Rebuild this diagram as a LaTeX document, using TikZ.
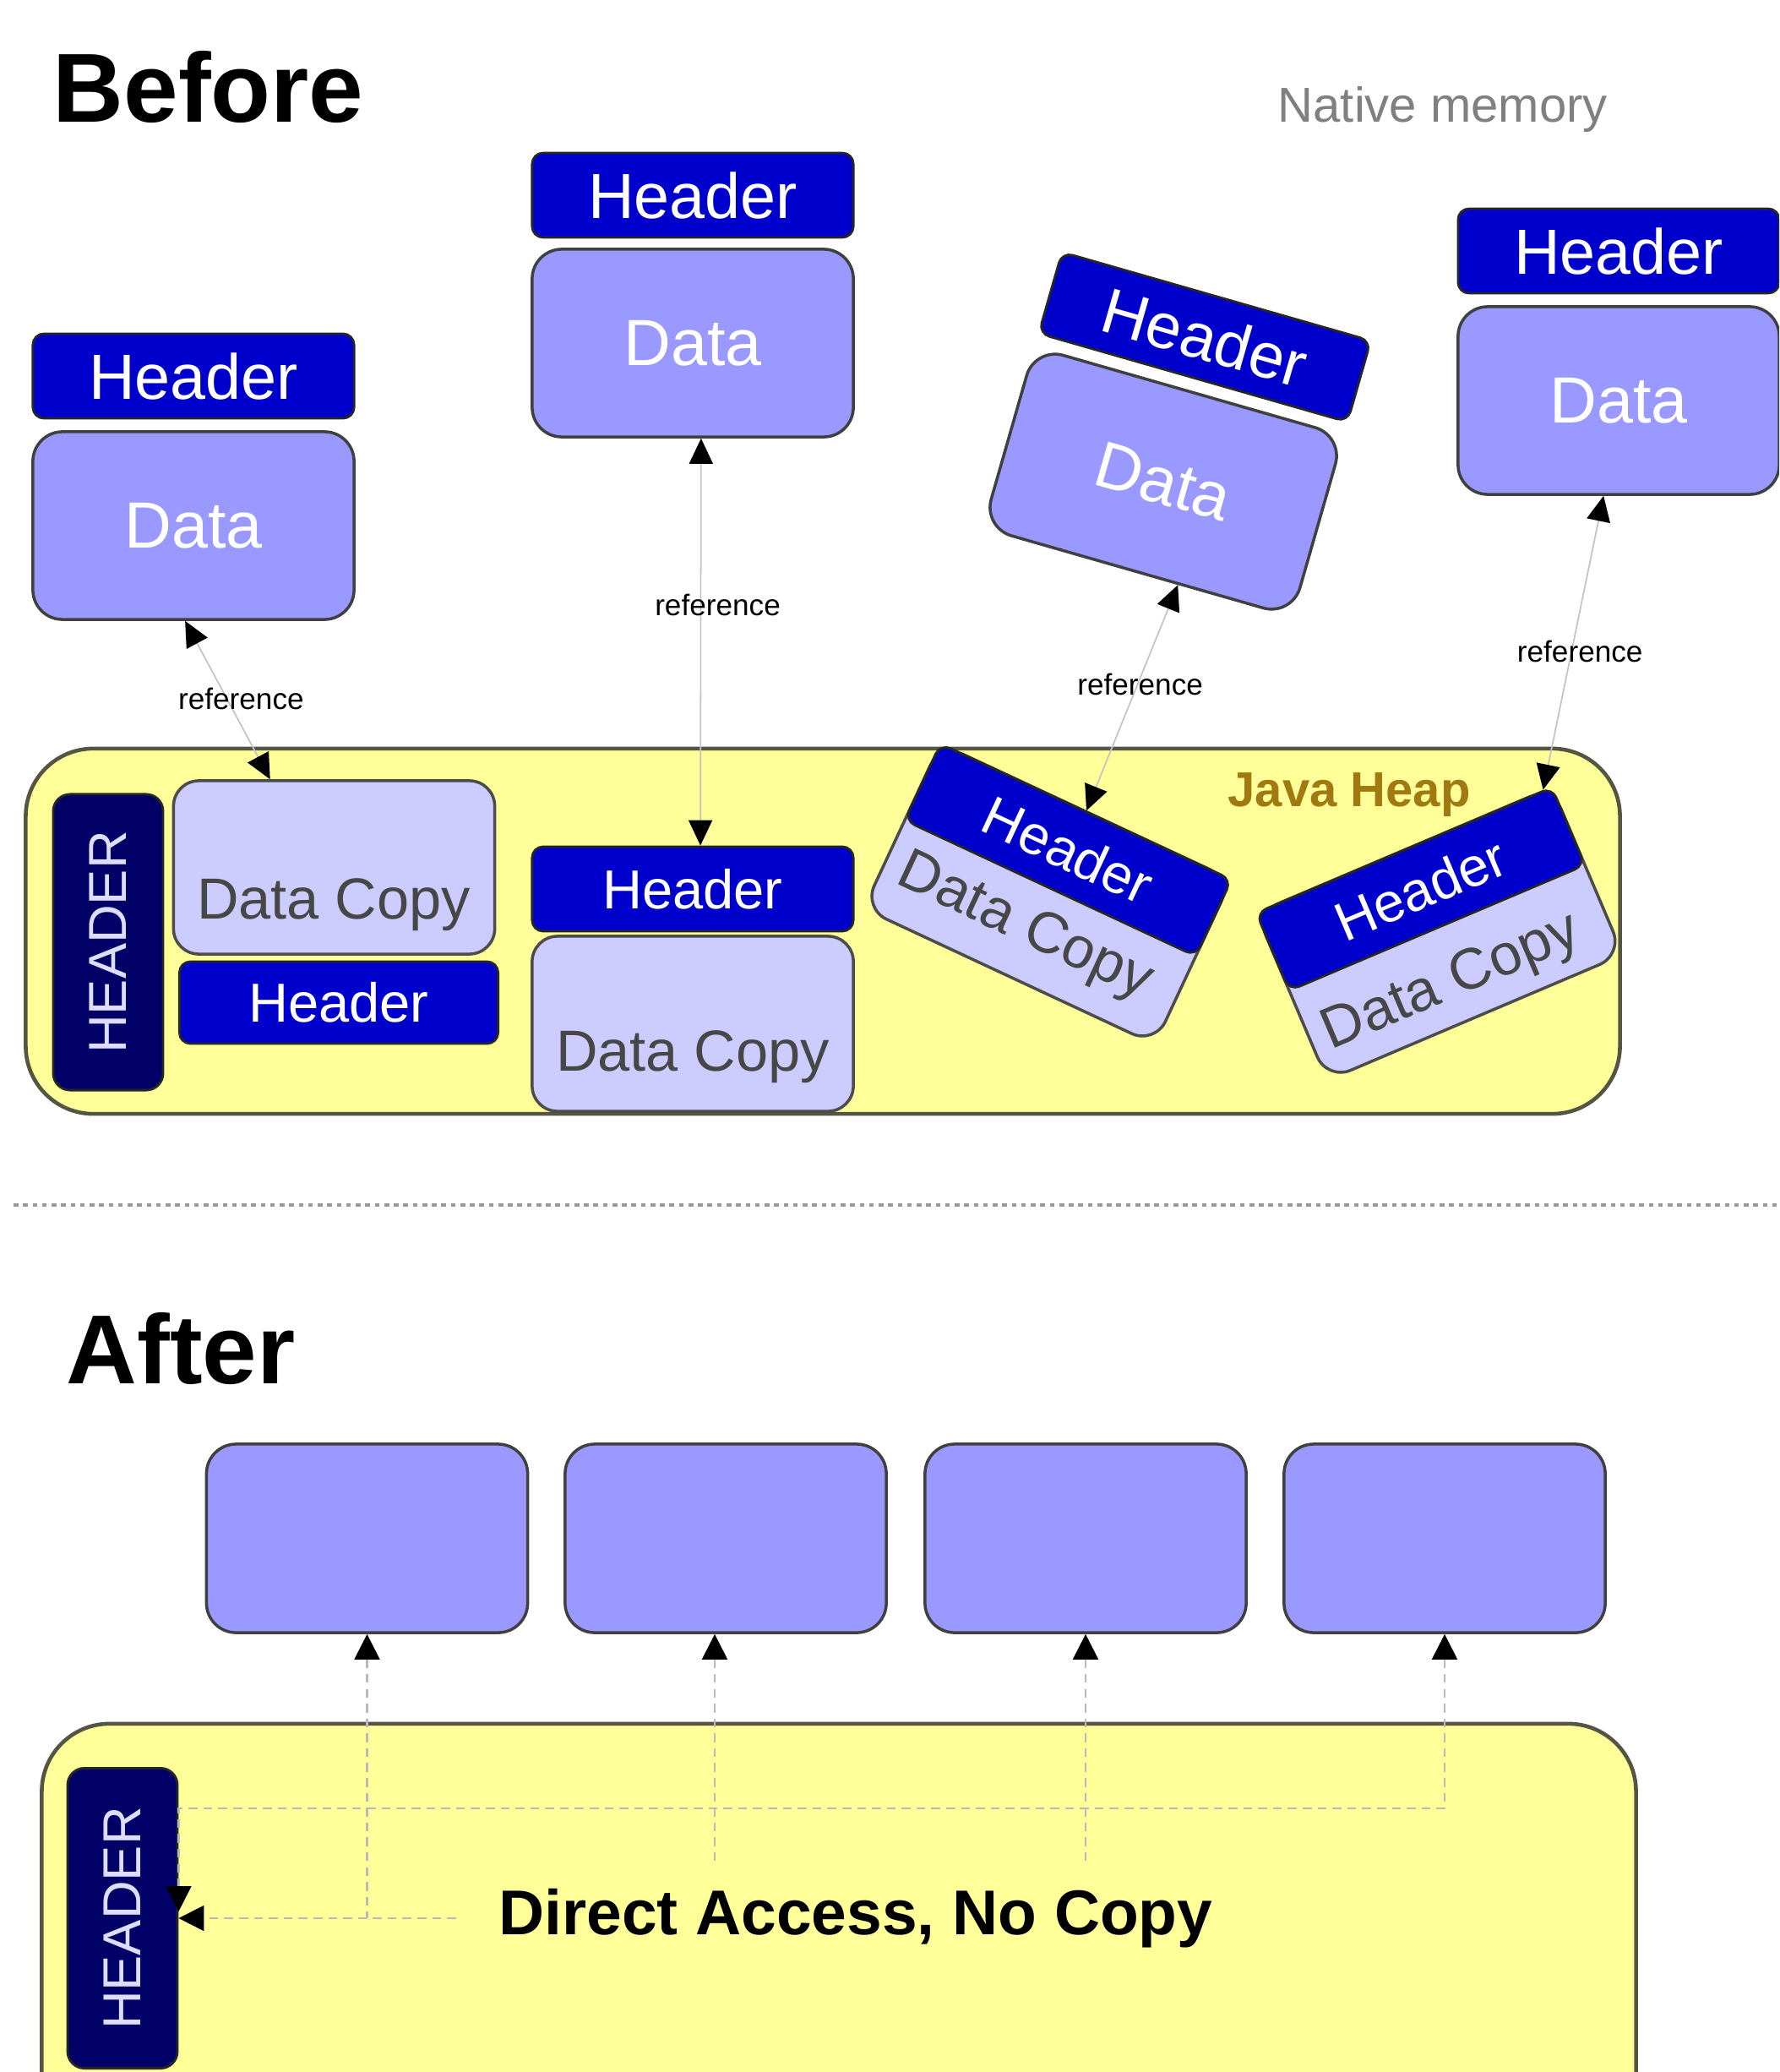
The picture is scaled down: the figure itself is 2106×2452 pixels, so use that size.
\documentclass[tikz,border=0pt]{standalone}
\usepackage{fontspec}
\setmainfont{Liberation Sans}
\usetikzlibrary{arrows.meta}
\definecolor{hdrblue}{HTML}{0000CC}
\definecolor{datablue}{HTML}{9999FF}
\definecolor{copyblue}{HTML}{CCCCFF}
\definecolor{navyhdr}{HTML}{000066}
\definecolor{heapyellow}{HTML}{FFFF99}
\definecolor{heapline}{HTML}{555544}
\definecolor{javagold}{HTML}{A07A10}
\definecolor{linegray}{HTML}{C4C4C4}
\definecolor{hdrtext}{HTML}{DDDDFF}
\begin{document}
\begin{tikzpicture}[x=0.01cm,y=-0.01cm,
  hdr/.style={draw=black!85, line width=0.8pt, fill=hdrblue, rounded corners=0.13cm, minimum width=3.8cm, minimum height=1cm, inner sep=0pt, text=white, font=\fontsize{21.5}{25}\selectfont},
  hhdr/.style={hdr, font=\fontsize{18.5}{22}\selectfont},
  databox/.style={draw=black!75, line width=1pt, fill=datablue, rounded corners=0.35cm, minimum width=3.8cm, minimum height=2.22cm, inner sep=0pt, text=white, font=\fontsize{22}{26}\selectfont},
  copybox/.style={draw=black!70, line width=1pt, fill=copyblue, rounded corners=0.3cm, minimum width=3.8cm, minimum height=2.06cm, inner sep=0pt},
  copytext/.style={text=black!72, font=\fontsize{19.5}{23}\selectfont, inner sep=0pt},
  bighdr/.style={draw=black!85, line width=0.8pt, fill=navyhdr, rounded corners=0.2cm, minimum width=3.5cm, minimum height=1.3cm, inner sep=0pt, text=hdrtext, font=\fontsize{18}{22}\selectfont, rotate=90},
  heap/.style={draw=heapline, line width=1.3pt, fill=heapyellow, rounded corners=0.8cm, inner sep=0pt},
  refline/.style={>={Triangle[length=0.3cm,width=0.28cm,color=black]}, draw=linegray, line width=0.5pt, <->},
  reflabel/.style={font=\fontsize{10}{12}\selectfont, text=black, inner sep=1pt},
  dconn/.style={>={Triangle[length=0.3cm,width=0.3cm,color=black]}, draw=gray!55, line width=0.6pt, dash pattern=on 3pt off 2pt},
  titletext/.style={font=\fontsize{33}{38}\selectfont\bfseries, inner sep=0pt, anchor=base west},
  sepline/.style={draw=gray!80, line width=1.2pt, dash pattern=on 1.6pt off 1.6pt}
]
\useasboundingbox (0,0) rectangle (2106,2452);
\clip (0,0) rectangle (2106,2452);

% ---------------- Before ----------------
\node[titletext] (before) at (62,145) {Before};
\node[font=\fontsize{16.5}{20}\selectfont, text=gray, anchor=base west, inner sep=0pt] (native) at (1512,145) {Native memory};

% native objects
\node[hdr] (h1) at (229,445) {Header};
\node[databox] (d1) at (229,622) {Data};
\node[hdr] (h2) at (820,231) {Header};
\node[databox] (d2) at (820,406) {Data};
\begin{scope}[shift={(1377,570)}, rotate=-16, transform shape]
  \node[databox] (d3) at (0,0) {Data};
  \node[hdr] (h3) at (0,-178) {Header};
\end{scope}
\node[hdr] (h4) at (1916,297) {Header};
\node[databox] (d4) at (1916,474) {Data};

% Java heap
\node[heap, minimum width=18.86cm, minimum height=4.32cm] (heap1) at (974,1102) {};
\node[font=\bfseries\fontsize{16.5}{20}\selectfont, text=javagold, inner sep=0pt] (jh) at (1597,941) {Java Heap};
\node[bighdr] (hd1) at (128,1115) {HEADER};

\node[copybox, minimum height=2.05cm] (c1) at (395.5,1026.5) {};
\node[copytext] (tc1) at (395,1071) {Data Copy};
\node[hhdr, minimum width=3.77cm, minimum height=0.97cm] (hc1) at (401,1186.5) {Header};

\node[hhdr] (hm) at (820,1052) {Header};
\node[copybox, minimum height=2.07cm] (cm) at (820,1211.5) {};
\node[copytext] (tcm) at (820,1251) {Data Copy};

\begin{scope}[shift={(1240,1058)}, rotate=-25, transform shape]
  \node[copybox, minimum height=2.15cm] (c3) at (0,0) {};
  \node[copytext] (tc3) at (-8,48) {Data Copy};
  \node[hhdr] (hc3) at (0,-57.5) {Header};
\end{scope}
\begin{scope}[shift={(1704,1105)}, rotate=23, transform shape]
  \node[copybox, minimum height=2.15cm] (c4) at (0,0) {};
  \node[copytext] (tc4) at (-10,60) {Data Copy};
  \node[hhdr] (hc4) at (0,-57.5) {Header};
\end{scope}

% reference connectors
\draw[refline] (d1.-95) -- node[reflabel, pos=0.49, xshift=0.17cm] (r1) {reference} (c1.126);
\draw[refline] (d2.-85) -- node[reflabel, pos=0.41, xshift=0.2cm] (r2) {reference} (hm.80);
\draw[refline] (d3.-66) -- node[reflabel, pos=0.44, xshift=0.03cm] (r3) {reference} (hc3.north);
\draw[refline] (d4.-99) -- node[reflabel, pos=0.53, xshift=0.1cm] (r4) {reference} (hc4.16);

% separator
\draw[sepline] (16,1426) -- (2103,1426);

% ---------------- After ----------------
\node[titletext] (after) at (78,1637) {After};
\node[databox, minimum height=2.23cm] (a1) at (434.5,1820.5) {};
\node[databox, minimum height=2.23cm] (a2) at (859,1820.5) {};
\node[databox, minimum height=2.23cm] (a3) at (1285,1820.5) {};
\node[databox, minimum height=2.23cm] (a4) at (1710,1820.5) {};

\node[heap, minimum width=18.86cm, minimum height=5cm] (heap2) at (993,2290) {};
\node[bighdr, minimum width=3.55cm] (hd2) at (145,2270) {HEADER};
\node[font=\bfseries\fontsize{21.3}{25}\selectfont, inner xsep=0.5cm, inner ysep=0pt, minimum height=1.24cm] (txt) at (1013,2270) {Direct Access, No Copy};
\coordinate (lvl) at (0,2140);

% hd2 is rotated by 90 degrees: its "south" anchor is its right-hand side on the page
\draw[dconn, <-] (a1.south) -- (a1.south |- txt.west);
\draw[dconn, ->] (txt.west) -- (hd2.south);
\draw[dconn, <-] ([xshift=-0.13cm]a2.south) -- ([xshift=-0.13cm]a2.south |- txt.north);
\draw[dconn, <-] (a3.south) -- (a3.south |- txt.north);
\draw[dconn, <->] (a4.south) |- (hd2.south |- lvl) -- ([yshift=0.08cm]hd2.south);
\end{tikzpicture}
\end{document}
